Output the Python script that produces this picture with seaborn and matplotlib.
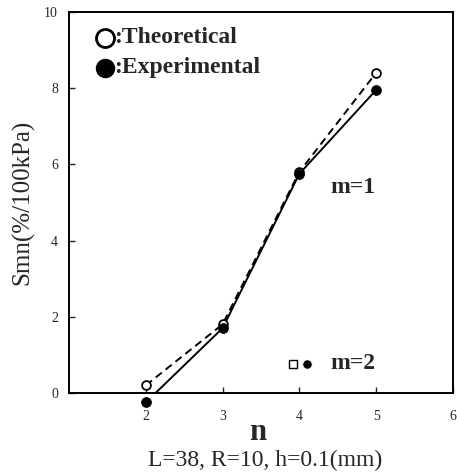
import matplotlib
matplotlib.use("Agg")
import matplotlib.pyplot as plt
import seaborn as sns
import pandas as pd

n_vals = [2, 3, 4, 5]
theoretical = [0.2, 1.8, 5.8, 8.4]
experimental = [-0.25, 1.7, 5.75, 7.95]
m2_theo_n, m2_theo_s = [3.92], [0.76]
m2_exp_n, m2_exp_s = [4.1], [0.76]
x_ticks = [2, 3, 4, 5, 6]
y_ticks = [0, 2, 4, 6, 8, 10]

sns.set_style("white")
plt.rcParams['font.family'] = ['Liberation Serif', 'DejaVu Serif']

fig = plt.figure(figsize=(4.57, 4.74), dpi=100)
ax = fig.add_axes([0.151, 0.171, 0.840, 0.804])

df_t = pd.DataFrame({"n": n_vals, "S": theoretical})
df_e = pd.DataFrame({"n": n_vals, "S": experimental})

sns.lineplot(data=df_t, x="n", y="S", ax=ax, color="black", lw=1.4,
             linestyle=(0, (4, 2.5)))
sns.lineplot(data=df_e, x="n", y="S", ax=ax, color="black", lw=1.4)
sns.scatterplot(data=df_t, x="n", y="S", ax=ax, marker="o", s=40,
                facecolor="white", edgecolor="black", linewidth=1.3, zorder=5, clip_on=False)
sns.scatterplot(data=df_e, x="n", y="S", ax=ax, marker="o", s=50,
                color="black", edgecolor="black", zorder=6, clip_on=False)
sns.scatterplot(x=m2_theo_n, y=m2_theo_s, ax=ax, marker="s", s=30,
                facecolor="white", edgecolor="black", linewidth=1.0, zorder=5)
sns.scatterplot(x=m2_exp_n, y=m2_exp_s, ax=ax, marker="o", s=45,
                color="black", zorder=5)

ax.set_xlim(1, 6)
ax.set_ylim(0, 10)
ax.set_xticks(x_ticks)
ax.set_yticks(y_ticks)
ax.tick_params(direction="in", length=4, width=1, labelsize=10,
               bottom=True, left=True)
ax.tick_params(axis="x", pad=12)
ax.tick_params(axis="y", pad=8)
for s in ax.spines.values():
    s.set_color("black")
    s.set_linewidth(1.4)

ax.set_xlabel("")
ax.set_ylabel("Smn(%/100kPa)", fontsize=18, labelpad=7)

fig.text(0.563, 0.087, "n", ha="center", va="center", fontsize=22, fontweight="bold")
fig.text(0.58, 0.028, "L=38, R=10, h=0.1(mm)", ha="center", va="center", fontsize=17)

# legend symbols and text
ax.plot([0.094], [0.932], marker="o", ms=13, mfc="white", mec="black", mew=2,
        transform=ax.transAxes, clip_on=False, ls="none")
ax.plot([0.094], [0.853], marker="o", ms=13, mfc="black", mec="black",
        transform=ax.transAxes, clip_on=False, ls="none")
ax.text(0.118, 0.932, ":Theoretical", fontsize=17, fontweight="bold", va="center",
        transform=ax.transAxes)
ax.text(0.118, 0.853, ":Experimental", fontsize=17, fontweight="bold", va="center",
        transform=ax.transAxes)
ax.text(4.4, 5.38, "m=1", fontsize=17, fontweight="bold", va="center")
ax.text(4.4, 0.76, "m=2", fontsize=17, fontweight="bold", va="center")

fig.savefig("out.png", dpi=100)
